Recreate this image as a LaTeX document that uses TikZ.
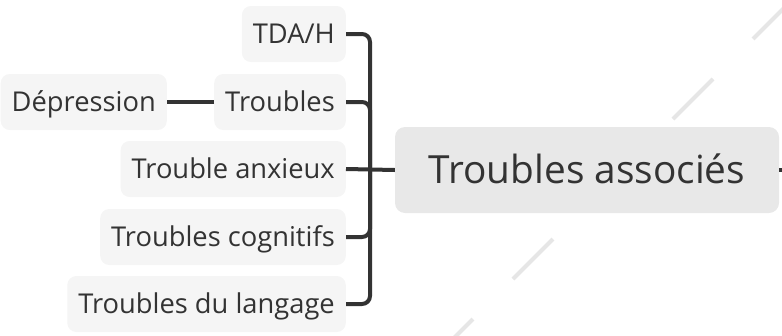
\documentclass[tikz,border=0pt]{standalone}
\usepackage{fontspec}
\setmainfont{Open Sans}
\definecolor{inkgray}{HTML}{333333}
\definecolor{leafgray}{HTML}{F5F5F5}
\definecolor{rootgray}{HTML}{E8E8E8}
\definecolor{dashgray}{HTML}{E6E6E6}

\def \busx {370}
\def \leafx {346}

\tikzset{
  leaf/.style={fill=leafgray, rounded corners=9pt, anchor=east, minimum height=56pt,
    inner xsep=11pt, text=inkgray, text height=19.5pt, text depth=0pt,
    font=\fontsize{27.3}{31}\selectfont},
  root/.style={fill=rootgray, rounded corners=10pt, minimum width=384pt, minimum height=86pt,
    text=inkgray, text height=27.7pt, text depth=0pt, font=\fontsize{38.8}{44}\selectfont},
  branch/.style={draw=inkgray, line width=4pt, rounded corners=8pt},
}

\begin{document}
\begin{tikzpicture}[x=1pt,y=-1pt]
\useasboundingbox (0,0) rectangle (782,335);
% background diagonal
\begin{scope}
\clip (0,0) rectangle (782,335);
\draw[dashgray, line width=4pt, dash pattern=on 56.57pt off 56.57pt] (793,-1) -- (433,359);
\end{scope}

\node[root] (assoc) at (587,170) {Troubles associés};
\coordinate (offright) at (782,170);
\coordinate (hub) at (\busx,170);

\node[leaf] (tda) at (\leafx,34) {TDA/H};
\node[leaf] (troubles) at (\leafx,102) {Troubles};
\node[leaf] (depression) at (167,102) {Dépression};
\node[leaf] (anxieux) at (\leafx,169) {Trouble anxieux};
\node[leaf] (cognitifs) at (\leafx,237) {Troubles cognitifs};
\node[leaf] (langage) at (\leafx,304) {Troubles du langage};

\draw[branch] (assoc.east) -- (offright);
\draw[branch] (assoc.west) -- (anxieux.east);
\foreach \leafname in {tda,troubles,cognitifs,langage}
  \draw[branch] (hub) |- (\leafname.east);
\draw[branch] (troubles.west) -- (depression.east);
\end{tikzpicture}
\end{document}
